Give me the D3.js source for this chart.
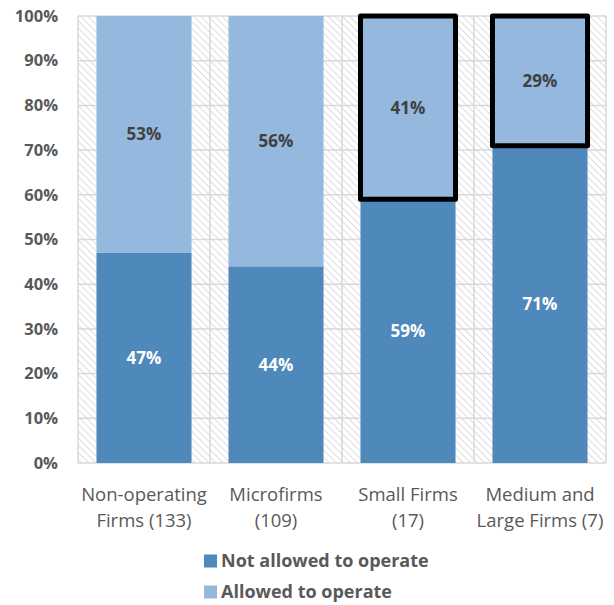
<!DOCTYPE html>
<html>
<head>
<meta charset="utf-8">
<script src="https://cdn.jsdelivr.net/npm/d3@7"></script>
<style>
  body { margin: 0; background: #fff; }
  svg text { font-family: "Open Sans", Lato, sans-serif; }
</style>
</head>
<body>
<svg id="chart" width="614" height="605"></svg>
<script>
// Firm categories (two-line labels) and the share of each response
const categories = ["Non-operating|Firms (133)", "Microfirms|(109)", "Small Firms|(17)", "Medium and|Large Firms (7)"];
const notAllowed = [47, 44, 59, 71];
const allowed = [53, 56, 41, 29];
// Categories whose "allowed" segment is outlined
const highlighted = [false, false, true, true];
const seriesNames = ["Not allowed to operate", "Allowed to operate"];
const yTicks = [0, 10, 20, 30, 40, 50, 60, 70, 80, 90, 100];

const colors = { notAllowed: "#4F88BB", allowed: "#95B8DF" };

const svg = d3.select("#chart");
const plotLeft = 78, plotRight = 606, plotTop = 16, plotBottom = 463;

const x = d3.scaleBand()
  .domain(categories)
  .range([plotLeft, plotRight])
  .paddingInner(0.28)
  .paddingOuter(0.14);

const y = d3.scaleLinear().domain([0, 100]).range([plotBottom, plotTop]);

// Hatched plot background
const defs = svg.append("defs");
const pat = defs.append("pattern")
  .attr("id", "hatch")
  .attr("patternUnits", "userSpaceOnUse")
  .attr("width", 5)
  .attr("height", 5)
  .attr("patternTransform", "rotate(-45)");
pat.append("line")
  .attr("x1", 0).attr("y1", 0).attr("x2", 0).attr("y2", 5)
  .attr("stroke", "#d4d4d4").attr("stroke-width", 1.6);

svg.append("rect")
  .attr("x", plotLeft).attr("y", plotTop)
  .attr("width", plotRight - plotLeft).attr("height", plotBottom - plotTop)
  .attr("fill", "url(#hatch)");

// Horizontal gridlines
svg.append("g").selectAll("line")
  .data(yTicks)
  .join("line")
  .attr("x1", plotLeft).attr("x2", plotRight)
  .attr("y1", d => y(d)).attr("y2", d => y(d))
  .attr("stroke", "#d9d9d9").attr("stroke-width", 1.5);

// Vertical gridlines at category boundaries
const step = x.step();
const boundaries = d3.range(categories.length + 1).map(i => plotLeft + i * step);
svg.append("g").selectAll("line")
  .data(boundaries)
  .join("line")
  .attr("x1", d => d).attr("x2", d => d)
  .attr("y1", plotTop).attr("y2", plotBottom)
  .attr("stroke", "#d9d9d9").attr("stroke-width", 1.5);

// Y axis labels
const yAxis = d3.axisLeft(y)
  .tickValues(yTicks)
  .tickFormat(d => d + "%")
  .tickSize(0)
  .tickPadding(20);
const yg = svg.append("g").attr("transform", `translate(${plotLeft},0)`).call(yAxis);
yg.select(".domain").remove();
yg.selectAll("text")
  .attr("fill", "#595959")
  .attr("font-size", 16.5)
  .attr("font-weight", "bold")
  .style("font-family", "'Open Sans', Lato, sans-serif");

// Stacked bars
const rows = categories.map((c, i) => ({ c, na: notAllowed[i], a: allowed[i], hi: highlighted[i] }));

const bars = svg.append("g");
bars.selectAll("rect.na")
  .data(rows)
  .join("rect")
  .attr("class", "na")
  .attr("x", d => x(d.c))
  .attr("width", x.bandwidth())
  .attr("y", d => y(d.na))
  .attr("height", d => y(0) - y(d.na))
  .attr("fill", colors.notAllowed);

bars.selectAll("rect.a")
  .data(rows)
  .join("rect")
  .attr("class", "a")
  .attr("x", d => x(d.c))
  .attr("width", x.bandwidth())
  .attr("y", d => y(d.na + d.a))
  .attr("height", d => y(d.na) - y(d.na + d.a))
  .attr("fill", colors.allowed)
  .attr("stroke", d => d.hi ? "#000" : "none")
  .attr("stroke-width", 5)
  .attr("stroke-linejoin", "round");

// Value labels
svg.append("g").selectAll("text")
  .data(rows)
  .join("text")
  .attr("x", d => x(d.c) + x.bandwidth() / 2)
  .attr("y", d => y(d.na / 2))
  .attr("dy", "0.35em")
  .attr("text-anchor", "middle")
  .attr("font-size", 17)
  .attr("font-weight", "bold")
  .attr("fill", "#ffffff")
  .text(d => d.na + "%");

svg.append("g").selectAll("text")
  .data(rows)
  .join("text")
  .attr("x", d => x(d.c) + x.bandwidth() / 2)
  .attr("y", d => y(d.na + d.a / 2))
  .attr("dy", "0.35em")
  .attr("text-anchor", "middle")
  .attr("font-size", 17)
  .attr("font-weight", "bold")
  .attr("fill", "#404040")
  .text(d => d.a + "%");

// Category labels
const catG = svg.append("g");
categories.forEach(c => {
  const t = catG.append("text")
    .attr("x", x(c) + x.bandwidth() / 2)
    .attr("y", 501)
    .attr("text-anchor", "middle")
    .attr("font-size", 18.5)
    .attr("fill", "#595959");
  c.split("|").forEach((line, i) => {
    t.append("tspan")
      .attr("x", x(c) + x.bandwidth() / 2)
      .attr("dy", i === 0 ? 0 : 26)
      .text(line);
  });
});

// Legend
const legend = svg.append("g");
const legendColors = [colors.notAllowed, colors.allowed];
seriesNames.forEach((name, i) => {
  const cy = 561 + i * 31;
  legend.append("rect")
    .attr("x", 204).attr("y", cy - 6.5)
    .attr("width", 13).attr("height", 13)
    .attr("fill", legendColors[i]);
  legend.append("text")
    .attr("x", 221).attr("y", cy)
    .attr("dy", "0.35em")
    .attr("font-size", 18)
    .attr("font-weight", "bold")
    .attr("fill", "#595959")
    .text(name);
});
</script>
</body>
</html>
